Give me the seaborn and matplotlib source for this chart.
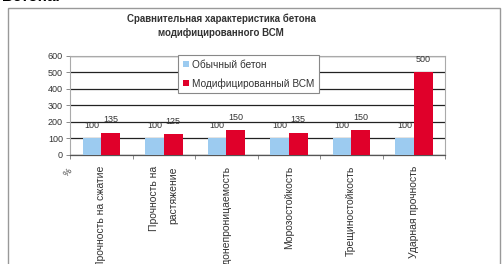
import matplotlib
matplotlib.use("Agg")
import matplotlib.pyplot as plt
import seaborn as sns
import pandas as pd
from matplotlib.patches import Rectangle

categories = ["Прочность на сжатие", "Прочность на\nрастяжение", "Водонепроницаемость",
              "Морозостойкость", "Трещиностойкость", "Ударная прочность"]
series_names = ["Обычный бетон", "Модифицированный ВСМ"]
ordinary = [100, 100, 100, 100, 100, 100]
modified = [135, 125, 150, 135, 150, 500]
yticks = [0, 100, 200, 300, 400, 500, 600]
title_text = "Сравнительная характеристика бетона\nмодифицированного ВСМ"
colors = ["#9CCBF0", "#E0002A"]

df = pd.DataFrame({
    "cat": categories * 2,
    "series": [series_names[0]] * len(categories) + [series_names[1]] * len(categories),
    "value": ordinary + modified,
})

sns.set_theme(style="white")
plt.rcParams["font.family"] = ["Liberation Sans", "DejaVu Sans"]

fig = plt.figure(figsize=(5.04, 2.64), dpi=100)
ax = fig.add_axes([70 / 504, 1 - 155 / 264, 375 / 504, 99.3 / 264])

sns.barplot(data=df, x="cat", y="value", hue="series", palette=colors,
            width=0.6, ax=ax, saturation=1, edgecolor="none", legend=True, zorder=3)

for cont in ax.containers:
    ax.bar_label(cont, fmt="%d", padding=6, fontsize=6.5, color="#333333")

ax.set_ylim(0, 600)
ax.set_yticks(yticks)
ax.set_yticklabels([str(t) for t in yticks], fontsize=6.5, color="#333333")
ax.set_xlim(-0.5, len(categories) - 0.5)
ax.set_xlabel("")
ax.set_ylabel("")
ax.yaxis.grid(True, color="#222222", linewidth=0.9, zorder=0)
ax.set_axisbelow(True)
for s in ["top", "right", "left"]:
    ax.spines[s].set_color("#aaaaaa")
    ax.spines[s].set_linewidth(0.8)
ax.spines["bottom"].set_color("#555555")
ax.spines["bottom"].set_linewidth(0.9)
ax.tick_params(axis="y", left=True, length=3, width=0.6, color="#777777", pad=2)

ax.set_xticks(range(len(categories)))
ax.set_xticklabels(categories, rotation=90, fontsize=7.5, color="#333333",
                   va="top", ha="center", linespacing=2.1)
for lbl in ax.get_xticklabels():
    lbl.set_multialignment("right")
ax.tick_params(axis="x", bottom=False, pad=2)
ax.set_xticks([i + 0.5 for i in range(-1, len(categories))], minor=True)
ax.tick_params(axis="x", which="minor", bottom=True, length=3, width=0.6, color="#777777")

leg = ax.legend(loc="upper left", bbox_to_anchor=(178 / 504, 1 - 55 / 264),
                bbox_transform=fig.transFigure, fontsize=7.3, frameon=True,
                fancybox=False, edgecolor="#888888", framealpha=1,
                handlelength=0.6, handleheight=0.6, labelspacing=0.85,
                handletextpad=0.3, borderpad=0.45, borderaxespad=0)
leg.get_frame().set_linewidth(0.8)
for t in leg.get_texts():
    t.set_color("#333333")

fig.text(221 / 504, 1 - 26 / 264, title_text, ha="center", va="center",
         fontsize=7, fontweight="bold", color="#333333", linespacing=1.5)
fig.text(68 / 504, 1 - 172 / 264, "%", ha="center", va="center",
         fontsize=6.5, rotation=45, color="#333333")
fig.text(2 / 504, 1 - 1 / 264, "Бетона.", ha="left", va="baseline",
         fontsize=11, fontweight="bold", color="black")

fig.patches.append(Rectangle((8 / 504, -0.02), 492 / 504, 1 - 8 / 264 + 0.02,
                             transform=fig.transFigure, fill=False,
                             edgecolor="#999999", linewidth=1.0))

fig.savefig("out.png", dpi=100)
